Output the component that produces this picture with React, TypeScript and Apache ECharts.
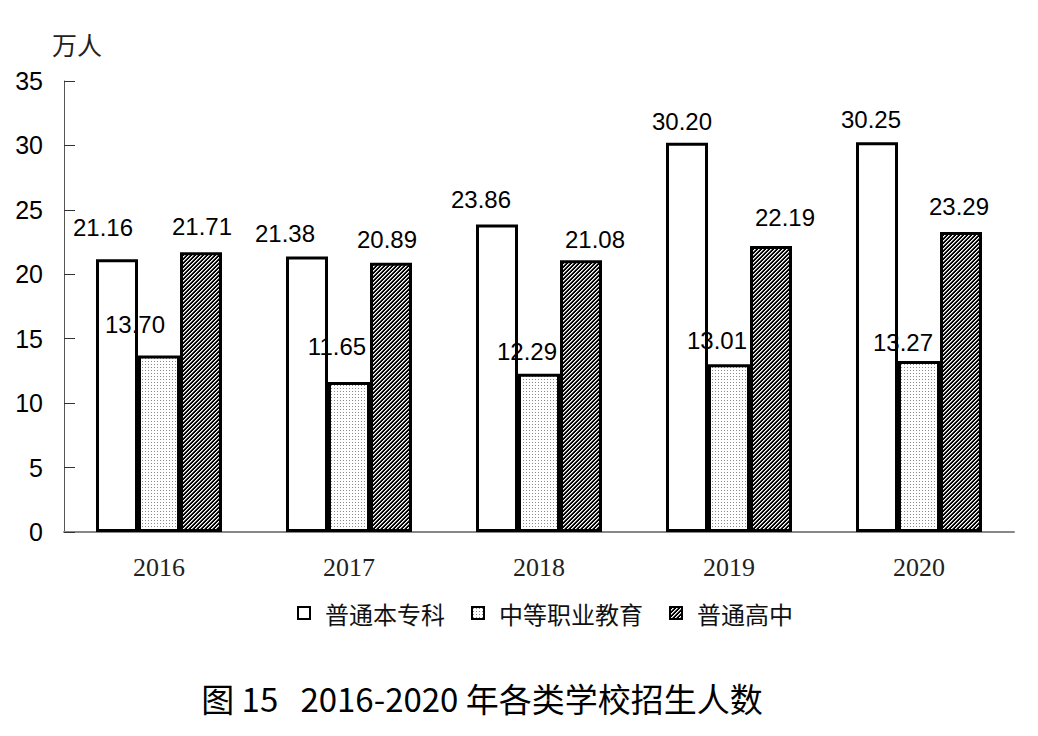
import React, { useEffect, useRef } from "react";
import * as echarts from "echarts";

const years = ["2016", "2017", "2018", "2019", "2020"];
const seriesNames = ["普通本专科", "中等职业教育", "普通高中"];
const undergrad = [21.16, 21.38, 23.86, 30.2, 30.25];
const vocational = [13.7, 11.65, 12.29, 13.01, 13.27];
const highSchool = [21.71, 20.89, 21.08, 22.19, 23.29];

// label placement tweaks (style only) [dx, dy]
const undergradLabelOffsets = [[-14, -15], [-22, -6], [-16, -8], [-5, -4], [-6, -6]];
const vocationalLabelOffsets = [[-24, -14], [-12, -18], [-12, -5], [-12, -7], [-16, -2]];
const highLabelOffsets = [[1, -9], [-4, -6], [14, -4], [14, -12], [-2, -8]];

function makeDots(): HTMLCanvasElement {
  const c = document.createElement("canvas");
  c.width = 3;
  c.height = 3;
  const ctx = c.getContext("2d")!;
  ctx.fillStyle = "#ffffff";
  ctx.fillRect(0, 0, 3, 3);
  ctx.fillStyle = "#8a8a8a";
  ctx.fillRect(1, 1, 1, 1);
  return c;
}

function makeHatch(): HTMLCanvasElement {
  const c = document.createElement("canvas");
  c.width = 4;
  c.height = 4;
  const ctx = c.getContext("2d")!;
  ctx.fillStyle = "#000000";
  ctx.fillRect(0, 0, 4, 4);
  ctx.fillStyle = "#ffffff";
  for (let i = 0; i < 4; i++) {
    ctx.fillRect(i, 3 - i, 1, 1);
  }
  ctx.fillStyle = "#9a9a9a";
  for (let i = 0; i < 4; i++) {
    ctx.fillRect(i, (4 - i) % 4, 1, 1);
  }
  return c;
}

function withLabels(values: number[], offsets: number[][]) {
  return values.map((v, i) => ({
    value: v,
    label: { offset: offsets[i] },
  }));
}

export default function App() {
  const ref = useRef<HTMLDivElement>(null);
  useEffect(() => {
    if (!ref.current) return;
    const chart = echarts.init(ref.current, undefined, { renderer: "svg" });
    const dots = makeDots();
    const hatch = makeHatch();
    const dotsPattern: any = { image: dots, repeat: "repeat", imageWidth: 3, imageHeight: 3 };
    const hatchPattern: any = { image: hatch, repeat: "repeat", imageWidth: 4, imageHeight: 4 };

    const labelCfg = {
      show: true,
      position: "top",
      distance: 5,
      color: "#000",
      fontFamily: "Liberation Sans, Arial, sans-serif",
      fontSize: 24,
      formatter: (p: any) => Number(p.value).toFixed(2),
    };
    const itemBase = { borderColor: "#000", borderWidth: 3 };

    chart.setOption({
      animation: false,
      backgroundColor: "#ffffff",
      grid: { left: 64, right: 24, top: 81, bottom: 204, containLabel: false },
      legend: {
        left: 292,
        top: 596,
        itemWidth: 12,
        itemHeight: 12,
        itemGap: 26,
        icon: "rect",
        data: seriesNames,
        itemStyle: { borderColor: "#000", borderWidth: 2 },
        textStyle: {
          fontFamily: "Noto Sans CJK SC",
          fontSize: 24,
          color: "#111",
          padding: [0, 0, 0, 10],
        },
      },
      xAxis: {
        type: "category",
        data: years,
        axisLine: { lineStyle: { color: "#888", width: 2 } },
        axisTick: { inside: true, length: 11, lineStyle: { color: "#444", width: 1.5 } },
        axisLabel: {
          fontFamily: "Liberation Serif, Times New Roman, serif",
          fontSize: 26,
          color: "#222",
          margin: 22,
        },
      },
      yAxis: {
        type: "value",
        min: 0,
        max: 35,
        interval: 5,
        splitLine: { show: false },
        axisLine: { show: true, lineStyle: { color: "#555", width: 1 } },
        axisTick: { show: true, inside: true, length: 11, lineStyle: { color: "#333", width: 1 } },
        axisLabel: {
          fontFamily: "Liberation Sans, Arial, sans-serif",
          fontSize: 25,
          color: "#000",
          margin: 21,
        },
      },
      series: [
        {
          name: seriesNames[0],
          type: "bar",
          barWidth: 42,
          barGap: "0%",
          data: withLabels(undergrad, undergradLabelOffsets),
          itemStyle: { ...itemBase, color: "#ffffff" },
          label: labelCfg,
        },
        {
          name: seriesNames[1],
          type: "bar",
          barWidth: 42,
          barGap: "0%",
          data: withLabels(vocational, vocationalLabelOffsets),
          itemStyle: { ...itemBase, color: dotsPattern },
          label: labelCfg,
        },
        {
          name: seriesNames[2],
          type: "bar",
          barWidth: 42,
          barGap: "0%",
          data: withLabels(highSchool, highLabelOffsets),
          itemStyle: { ...itemBase, color: hatchPattern },
          label: labelCfg,
        },
      ],
      graphic: [
        {
          type: "text",
          left: 52,
          top: 31,
          style: {
            text: "万人",
            fontFamily: "Noto Sans CJK SC",
            fontSize: 25,
            fill: "#222",
          },
        },
        {
          type: "text",
          x: 482,
          y: 698,
          style: {
            text: "图 15   2016-2020 年各类学校招生人数",
            fontFamily: "Noto Sans CJK SC",
            fontSize: 33,
            fill: "#000",
            align: "center",
            verticalAlign: "middle",
          },
        },
      ],
    });
    return () => chart.dispose();
  }, []);
  return (
    <div
      ref={ref}
      style={{ position: "fixed", left: 0, top: 0, width: 1038, height: 736, background: "#fff" }}
    />
  );
}
